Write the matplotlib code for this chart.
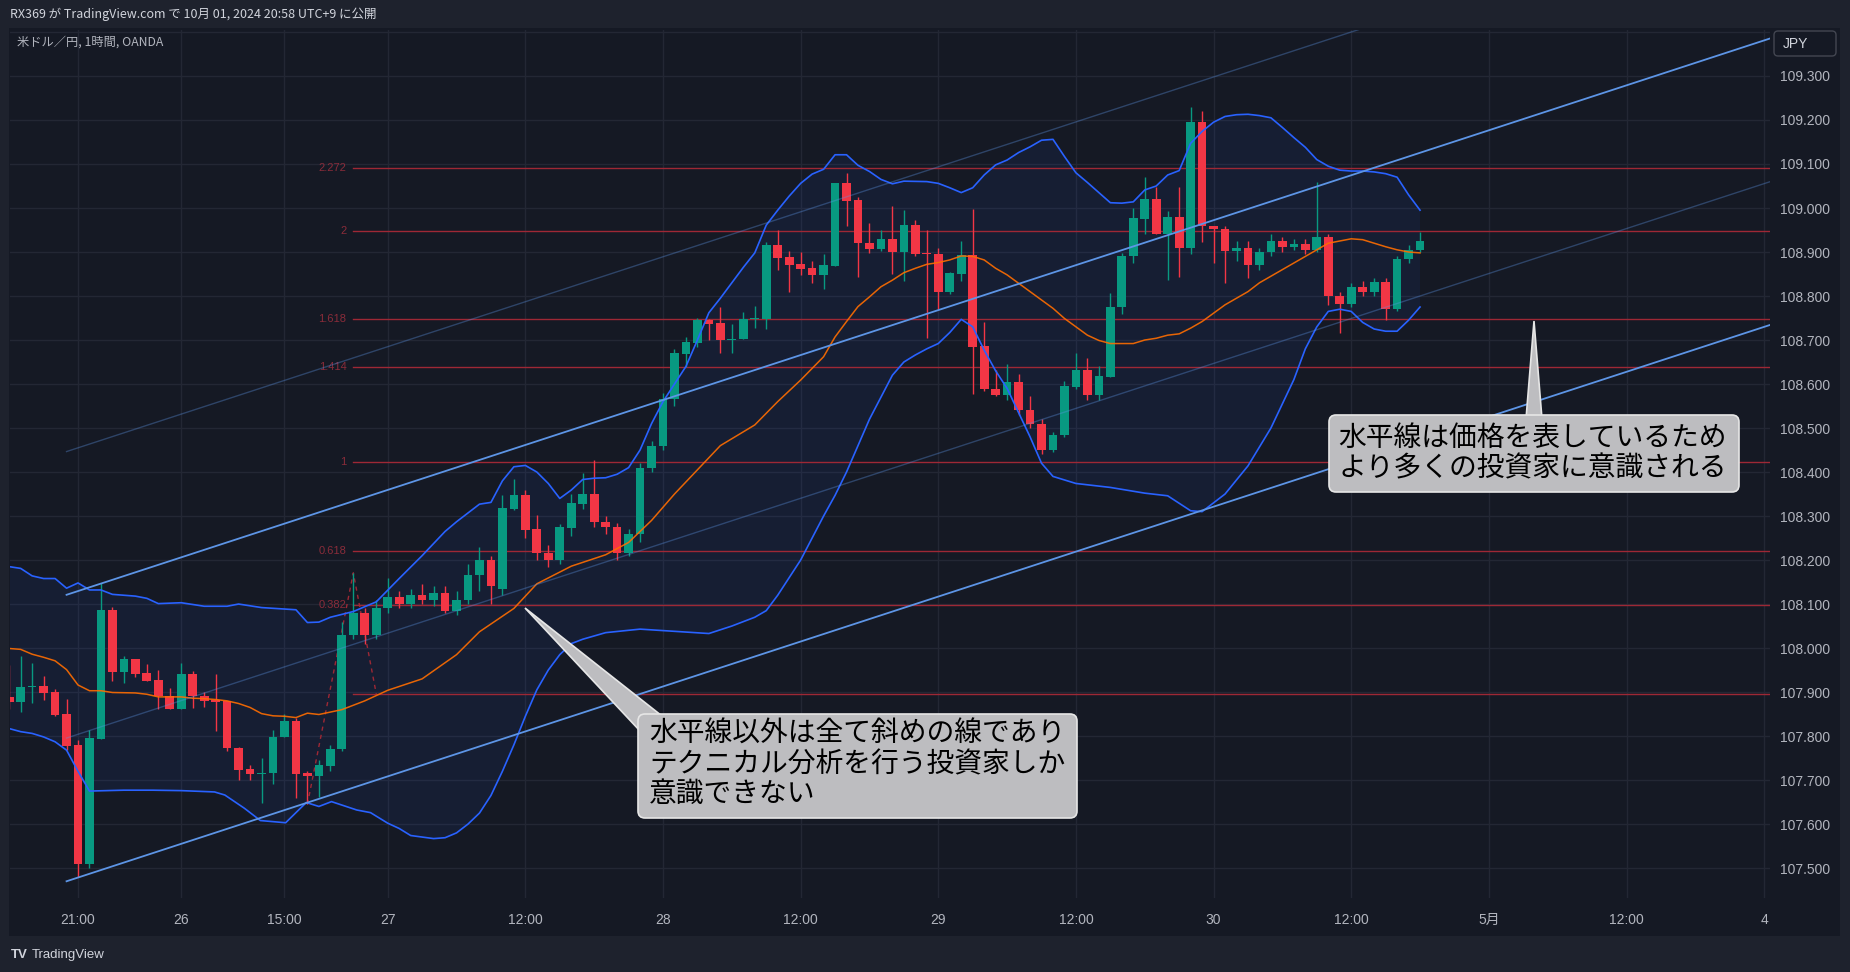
import matplotlib.pyplot as plt
from matplotlib.patches import FancyBboxPatch, Polygon, Rectangle
import numpy as np

# USD/JPY 1h candles, bar 0 = first visible bar on the left
opens = [107.889, 107.878, 107.912, 107.914, 107.901, 107.850, 107.779, 107.510, 107.794, 108.086,
         107.946, 107.975, 107.944, 107.927, 107.892, 107.862, 107.941, 107.892, 107.883, 107.879,
         107.772, 107.725, 107.714, 107.716, 107.797, 107.835, 107.717, 107.709, 107.733, 107.770,
         108.030, 108.080, 108.030, 108.090, 108.115, 108.100, 108.120, 108.110, 108.125, 108.085,
         108.110, 108.165, 108.200, 108.135, 108.316, 108.348, 108.270, 108.215, 108.200, 108.273,
         108.327, 108.351, 108.287, 108.275, 108.215, 108.260, 108.410, 108.460, 108.565, 108.668,
         108.694, 108.745, 108.739, 108.700, 108.703, 108.748, 108.748, 108.916, 108.889, 108.873,
         108.864, 108.848, 108.869, 109.056, 109.018, 108.920, 108.907, 108.929, 108.901, 108.961,
         108.897, 108.895, 108.808, 108.851, 108.893, 108.686, 108.588, 108.575, 108.605, 108.540,
         108.510, 108.450, 108.485, 108.594, 108.632, 108.575, 108.617, 108.774, 108.890, 108.976,
         109.021, 108.942, 108.980, 108.910, 109.195, 108.959, 108.952, 108.902, 108.910, 108.870,
         108.900, 108.925, 108.912, 108.918, 108.905, 108.935, 108.800, 108.782, 108.820, 108.810,
         108.832, 108.770, 108.885, 108.905]
highs = [107.961, 107.982, 107.967, 107.936, 107.907, 107.884, 107.790, 107.814, 108.147, 108.094,
         107.982, 107.975, 107.964, 107.950, 107.910, 107.967, 107.948, 107.899, 107.941, 107.879,
         107.775, 107.735, 107.750, 107.814, 107.851, 107.842, 107.720, 107.745, 107.780, 108.060,
         108.171, 108.090, 108.110, 108.160, 108.130, 108.135, 108.145, 108.140, 108.140, 108.130,
         108.190, 108.230, 108.210, 108.348, 108.385, 108.359, 108.302, 108.235, 108.282, 108.351,
         108.397, 108.427, 108.300, 108.285, 108.270, 108.420, 108.470, 108.580, 108.679, 108.706,
         108.750, 108.748, 108.774, 108.736, 108.763, 108.777, 108.923, 108.950, 108.902, 108.900,
         108.880, 108.895, 109.056, 109.079, 109.024, 108.965, 108.950, 109.005, 108.996, 108.973,
         108.950, 108.909, 108.855, 108.925, 108.997, 108.742, 108.632, 108.645, 108.623, 108.573,
         108.520, 108.490, 108.607, 108.670, 108.658, 108.641, 108.806, 108.897, 109.001, 109.070,
         109.047, 108.993, 109.047, 109.229, 109.220, 108.959, 108.960, 108.925, 108.925, 108.910,
         108.940, 108.935, 108.930, 108.930, 109.060, 108.940, 108.810, 108.830, 108.835, 108.840,
         108.840, 108.890, 108.915, 108.945]
lows = [107.861, 107.855, 107.874, 107.882, 107.845, 107.768, 107.480, 107.500, 107.794, 107.926,
        107.920, 107.935, 107.926, 107.861, 107.862, 107.862, 107.864, 107.867, 107.812, 107.765,
        107.700, 107.700, 107.648, 107.690, 107.797, 107.660, 107.645, 107.662, 107.720, 107.765,
        108.020, 108.010, 108.020, 108.080, 108.090, 108.090, 108.100, 108.095, 108.080, 108.075,
        108.100, 108.130, 108.100, 108.120, 108.314, 108.250, 108.200, 108.185, 108.190, 108.255,
        108.317, 108.275, 108.260, 108.200, 108.210, 108.240, 108.400, 108.450, 108.550, 108.639,
        108.683, 108.700, 108.670, 108.670, 108.703, 108.728, 108.726, 108.859, 108.810, 108.848,
        108.830, 108.817, 108.869, 108.960, 108.844, 108.897, 108.903, 108.849, 108.835, 108.892,
        108.705, 108.771, 108.804, 108.835, 108.577, 108.585, 108.573, 108.564, 108.530, 108.500,
        108.440, 108.445, 108.480, 108.588, 108.564, 108.564, 108.617, 108.760, 108.876, 108.940,
        108.942, 108.836, 108.843, 108.895, 108.923, 108.876, 108.830, 108.880, 108.840, 108.860,
        108.890, 108.900, 108.905, 108.895, 108.900, 108.780, 108.715, 108.775, 108.800, 108.800,
        108.745, 108.765, 108.875, 108.900]
closes = [107.878, 107.911, 107.914, 107.898, 107.848, 107.777, 107.510, 107.796, 108.086, 107.946,
          107.975, 107.942, 107.926, 107.891, 107.862, 107.941, 107.891, 107.880, 107.878, 107.772,
          107.724, 107.714, 107.716, 107.798, 107.835, 107.714, 107.709, 107.734, 107.770, 108.030,
          108.080, 108.030, 108.090, 108.115, 108.100, 108.120, 108.110, 108.125, 108.085, 108.110,
          108.165, 108.200, 108.140, 108.318, 108.348, 108.268, 108.215, 108.200, 108.275, 108.329,
          108.351, 108.287, 108.275, 108.215, 108.260, 108.410, 108.460, 108.565, 108.670, 108.695,
          108.745, 108.737, 108.700, 108.702, 108.747, 108.750, 108.916, 108.887, 108.870, 108.861,
          108.848, 108.870, 109.056, 109.017, 108.920, 108.907, 108.929, 108.901, 108.961, 108.896,
          108.895, 108.808, 108.852, 108.893, 108.685, 108.588, 108.575, 108.605, 108.540, 108.510,
          108.450, 108.485, 108.595, 108.632, 108.575, 108.618, 108.775, 108.892, 108.977, 109.021,
          108.942, 108.980, 108.910, 109.195, 108.958, 108.952, 108.902, 108.910, 108.870, 108.900,
          108.925, 108.912, 108.918, 108.905, 108.935, 108.800, 108.782, 108.820, 108.810, 108.832,
          108.770, 108.885, 108.905, 108.925]

# Bollinger bands (20, 2) at their vertices
bb_up_x = [0, 1, 2, 3, 4, 5, 6, 7, 8, 9, 11, 12, 13, 15, 17, 19, 20, 22, 25, 26, 27, 28, 30, 32, 34,
           36, 38, 39, 41, 42, 43, 44, 45, 46, 47, 48, 49, 50, 51, 52, 53, 54, 55, 56, 57, 58, 59,
           60, 61, 62, 63, 64, 65, 66, 67, 68, 69, 70, 71, 72, 73, 74, 75, 76, 77, 78, 80, 81, 82,
           83, 84, 85, 86, 87, 88, 89, 90, 91, 92, 93, 94, 95, 96, 97, 98, 99, 100, 101, 102, 103,
           104, 105, 106, 107, 108, 109, 110, 111, 112, 113, 114, 115, 116, 117, 118, 119, 120,
           121, 122, 123]
bb_up = [108.185, 108.181, 108.164, 108.158, 108.158, 108.136, 108.148, 108.132, 108.132, 108.122,
         108.118, 108.113, 108.101, 108.103, 108.095, 108.095, 108.100, 108.092, 108.087, 108.058,
         108.059, 108.070, 108.083, 108.105, 108.158, 108.210, 108.265, 108.287, 108.327, 108.331,
         108.380, 108.412, 108.415, 108.400, 108.374, 108.340, 108.359, 108.383, 108.386, 108.387,
         108.395, 108.410, 108.450, 108.510, 108.560, 108.600, 108.640, 108.700, 108.762, 108.795,
         108.830, 108.865, 108.898, 108.961, 108.995, 109.027, 109.056, 109.077, 109.088, 109.121,
         109.121, 109.097, 109.083, 109.065, 109.055, 109.061, 109.060, 109.056, 109.046, 109.035,
         109.046, 109.075, 109.098, 109.109, 109.126, 109.139, 109.154, 109.156, 109.117, 109.080,
         109.058, 109.035, 109.012, 109.011, 109.014, 109.041, 109.050, 109.075, 109.085, 109.147,
         109.174, 109.195, 109.208, 109.212, 109.213, 109.210, 109.205, 109.183, 109.160, 109.138,
         109.110, 109.095, 109.086, 109.084, 109.084, 109.082, 109.078, 109.070, 109.030, 108.995]
bb_mid_x = [0, 1, 2, 3, 4, 5, 6, 7, 8, 9, 11, 12, 13, 15, 16, 17, 18, 19, 20, 21, 22, 23, 24, 25,
            26, 27, 29, 31, 33, 36, 39, 41, 44, 46, 49, 52, 54, 56, 58, 60, 62, 65, 67, 69, 71, 72,
            73, 74, 75, 76, 77, 78, 79, 80, 81, 82, 83, 84, 85, 86, 87, 88, 89, 90, 91, 92, 93, 94,
            95, 96, 97, 98, 99, 100, 101, 102, 103, 104, 105, 106, 107, 108, 109, 110, 111, 112,
            113, 114, 115, 116, 117, 118, 119, 120, 121, 122, 123]
bb_mid = [107.999, 107.997, 107.986, 107.979, 107.971, 107.951, 107.916, 107.903, 107.903, 107.899,
          107.898, 107.895, 107.889, 107.889, 107.886, 107.885, 107.883, 107.880, 107.874, 107.865,
          107.851, 107.846, 107.845, 107.842, 107.852, 107.849, 107.860, 107.880, 107.904, 107.930,
          107.985, 108.037, 108.090, 108.146, 108.186, 108.212, 108.240, 108.290, 108.350, 108.405,
          108.460, 108.507, 108.560, 108.609, 108.662, 108.707, 108.742, 108.776, 108.798, 108.821,
          108.836, 108.853, 108.863, 108.872, 108.876, 108.882, 108.891, 108.890, 108.882, 108.863,
          108.848, 108.829, 108.810, 108.791, 108.772, 108.749, 108.730, 108.711, 108.699, 108.692,
          108.692, 108.692, 108.700, 108.704, 108.711, 108.714, 108.727, 108.742, 108.761, 108.780,
          108.795, 108.810, 108.830, 108.845, 108.860, 108.875, 108.890, 108.905, 108.920, 108.925,
          108.930, 108.928, 108.920, 108.912, 108.905, 108.900, 108.898]
bb_lo_x = [0, 1, 2, 3, 4, 5, 6, 7, 10, 12.5, 15, 17.9, 18.8, 20.5, 21.9, 24.1, 25.9, 27, 28.1, 30.3,
           31.5, 33, 34, 35, 37, 38, 39, 40, 41, 42, 43, 44, 45, 46, 47, 48, 49, 50, 52, 55, 58, 61,
           63, 65, 66, 67, 68, 69, 70, 71, 72, 73, 74, 75, 76, 77, 78, 79, 80, 81, 82, 83, 84, 85,
           86, 87, 88, 89, 90, 91, 93, 96, 99, 101, 103, 104, 106, 108, 110, 112, 113, 114, 115,
           116, 117, 118, 119, 120, 121, 122, 123]
bb_lo = [107.817, 107.810, 107.806, 107.798, 107.787, 107.768, 107.720, 107.675, 107.677, 107.677,
         107.676, 107.673, 107.666, 107.636, 107.608, 107.603, 107.649, 107.640, 107.651, 107.632,
         107.626, 107.602, 107.590, 107.574, 107.567, 107.569, 107.580, 107.600, 107.625, 107.665,
         107.720, 107.780, 107.845, 107.905, 107.950, 107.985, 108.010, 108.020, 108.035, 108.043,
         108.038, 108.033, 108.050, 108.070, 108.085, 108.120, 108.160, 108.200, 108.250, 108.300,
         108.347, 108.400, 108.460, 108.520, 108.570, 108.620, 108.650, 108.666, 108.680, 108.692,
         108.717, 108.747, 108.730, 108.677, 108.630, 108.590, 108.535, 108.480, 108.420, 108.390,
         108.374, 108.365, 108.352, 108.346, 108.312, 108.310, 108.350, 108.414, 108.500, 108.610,
         108.680, 108.730, 108.765, 108.770, 108.765, 108.740, 108.725, 108.720, 108.720, 108.745,
         108.775]

# parallel channel drawing (start bar, right edge)
ch_x = [5, 153.6]
ch_upper = [108.121, 109.386]
ch_lower = [107.470, 108.735]

# trend based fib extension: points A, B, C
fib_x = [26, 30, 32]
fib_y = [107.645, 108.171, 107.896]
fib_ratios = [0, 0.382, 0.618, 1, 1.414, 1.618, 2, 2.272]
fib_text = ['', '0.382', '0.618', '1', '1.414', '1.618', '2', '2.272']

# time axis
tick_pos = [6, 15, 24, 33, 45, 57, 69, 81, 93, 105, 117, 129, 141, 153]
tick_lab = ['21:00', '26', '15:00', '27', '12:00', '28', '12:00', '29', '12:00', '30', '12:00',
            '5月', '12:00', '4']
price_ticks = [107.5, 107.6, 107.7, 107.8, 107.9, 108.0, 108.1, 108.2, 108.3, 108.4, 108.5,
               108.6, 108.7, 108.8, 108.9, 109.0, 109.1, 109.2, 109.3, 109.4]

note1 = ['水平線以外は全て斜めの線であり', 'テクニカル分析を行う投資家しか', '意識できない']
note2 = ['水平線は価格を表しているため', 'より多くの投資家に意識される']

plt.rcParams['font.family'] = ['Liberation Sans', 'Noto Sans CJK JP', 'DejaVu Sans']
JP = ['Noto Sans CJK JP', 'DejaVu Sans']

W, H = 1850, 972
BG = '#151924'
PANEL = '#1e222d'
UP, DOWN = '#089981', '#f23645'
FIB = '#9e2835'

fig = plt.figure(figsize=(W / 100, H / 100), dpi=100)
fig.patch.set_facecolor(BG)

# frame pieces (header / footer / side strips) in pixel coords
back = fig.add_axes([0, 0, 1, 1], zorder=0)
back.set_xlim(0, W)
back.set_ylim(H, 0)
back.axis('off')
back.add_patch(Rectangle((0, 0), W, 28, color=PANEL, lw=0))
back.add_patch(Rectangle((0, 936), W, 36, color=PANEL, lw=0))
back.add_patch(Rectangle((0, 0), 9, H, color=PANEL, lw=0))
back.add_patch(Rectangle((1840, 0), 10, H, color=PANEL, lw=0))

ax = fig.add_axes([10 / W, 74 / H, 1760 / W, 868 / H], zorder=1)
ax.set_facecolor(BG)
for s in ax.spines.values():
    s.set_visible(False)

# bollinger fill + lines
poly_x = list(bb_up_x) + list(bb_lo_x)[::-1]
poly_y = list(bb_up) + list(bb_lo)[::-1]
ax.fill(poly_x, poly_y, color='#2962ff', alpha=0.07, lw=0, zorder=1)

# fib extension
a, b, c = fib_y
for r, t in zip(fib_ratios, fib_text):
    lvl = c + (b - a) * r
    ax.plot([fib_x[1], 160], [lvl, lvl], color=FIB, lw=1.0, zorder=2)
    if t:
        ax.text(fib_x[1] - 0.6, lvl, t, color='#8a2c3a', fontsize=8, ha='right', va='center', zorder=2)
ax.plot(fib_x, fib_y, color=FIB, lw=1.0, ls=(0, (3, 3)), zorder=2)

# candles
o = np.array(opens)
h = np.array(highs)
l = np.array(lows)
c_ = np.array(closes)
x = np.arange(len(c_))
col = np.where(c_ >= o, UP, DOWN)
ax.vlines(x, l, h, colors=col, lw=1.0, zorder=3)
ax.bar(x, np.maximum(np.abs(c_ - o), 0.0025), bottom=np.minimum(o, c_), width=0.76,
       color=col, lw=0, zorder=3)

ax.plot(bb_up_x, bb_up, color='#2962ff', lw=1.2, zorder=4)
ax.plot(bb_lo_x, bb_lo, color='#2962ff', lw=1.2, zorder=4)
ax.plot(bb_mid_x, bb_mid, color='#ff6d00', lw=1.1, alpha=0.9, zorder=4)

# channel: borders bright, middle and upper extension faint
u = np.array(ch_upper)
d = np.array(ch_lower)
ax.plot(ch_x, u, color='#5d95e6', lw=1.3, zorder=4)
ax.plot(ch_x, d, color='#5d95e6', lw=1.3, zorder=4)
ax.plot(ch_x, (u + d) / 2, color='#5d95e6', lw=1.0, alpha=0.35, zorder=4)
ax.plot(ch_x, u + (u - d) / 2, color='#5d95e6', lw=1.0, alpha=0.35, zorder=4)

ax.set_xlim(0.07, 153.51)
ax.set_ylim(107.432, 109.4045)
ax.set_xticks(tick_pos)
ax.set_xticklabels(tick_lab)
ax.set_yticks(price_ticks)
ax.set_yticklabels(['%.3f' % p if p < 109.35 else '' for p in price_ticks])
ax.yaxis.tick_right()
ax.tick_params(axis='y', length=0, pad=7.2, labelsize=10, labelcolor='#b2b5be')
ax.tick_params(axis='x', length=0, pad=10.5, labelsize=10, labelcolor='#b2b5be')
ax.grid(True, color='#232734', lw=1.0, zorder=0)
ax.set_axisbelow(True)

# overlay: texts, callouts
ov = fig.add_axes([0, 0, 1, 1], zorder=5)
ov.set_xlim(0, W)
ov.set_ylim(H, 0)
ov.axis('off')
ov.patch.set_visible(False)

ov.text(10, 14, 'RX369 が TradingView.com で 10月 01, 2024 20:58 UTC+9 に公開', family=JP,
        fontsize=9, color='#d1d4dc', va='center')
ov.text(17, 42, '米ドル／円, 1時間, OANDA', family=JP, fontsize=8.8, color='#b2b5be', va='center')

ov.add_patch(FancyBboxPatch((1774, 31), 62, 25, boxstyle='round,pad=0,rounding_size=4',
                            fc=BG, ec='#434651', lw=1.0))
ov.text(1783, 44, 'JPY', fontsize=10, color='#d1d4dc', va='center')

ov.text(32, 955, 'TradingView', fontsize=9.5, color='#d1d4dc', va='center')
ov.text(11, 955, 'TV', fontsize=9.5, color='#d1d4dc', va='center', fontweight='bold')

BOX = '#bdbdc0'
ov.add_patch(Polygon([(525, 608), (641, 732), (662, 716)], closed=True, fc=BOX, ec='#e6e6e6', lw=1.2))
ov.add_patch(FancyBboxPatch((638, 714), 439, 104, boxstyle='round,pad=0,rounding_size=7',
                            fc=BOX, ec='#e6e6e6', lw=1.2))
for k, s in enumerate(note1):
    ov.text(649, 734 + 30 * k, s, family=JP, fontsize=20, color='#000000', va='center')

ov.add_patch(Polygon([(1534, 321), (1526, 419), (1542, 419)], closed=True, fc=BOX, ec='#e6e6e6', lw=1.2))
ov.add_patch(FancyBboxPatch((1329, 415), 410, 77, boxstyle='round,pad=0,rounding_size=7',
                            fc=BOX, ec='#e6e6e6', lw=1.2))
for k, s in enumerate(note2):
    ov.text(1338, 438 + 30 * k, s, family=JP, fontsize=20, color='#000000', va='center')

plt.savefig('out.png', dpi=100, facecolor=fig.get_facecolor())
